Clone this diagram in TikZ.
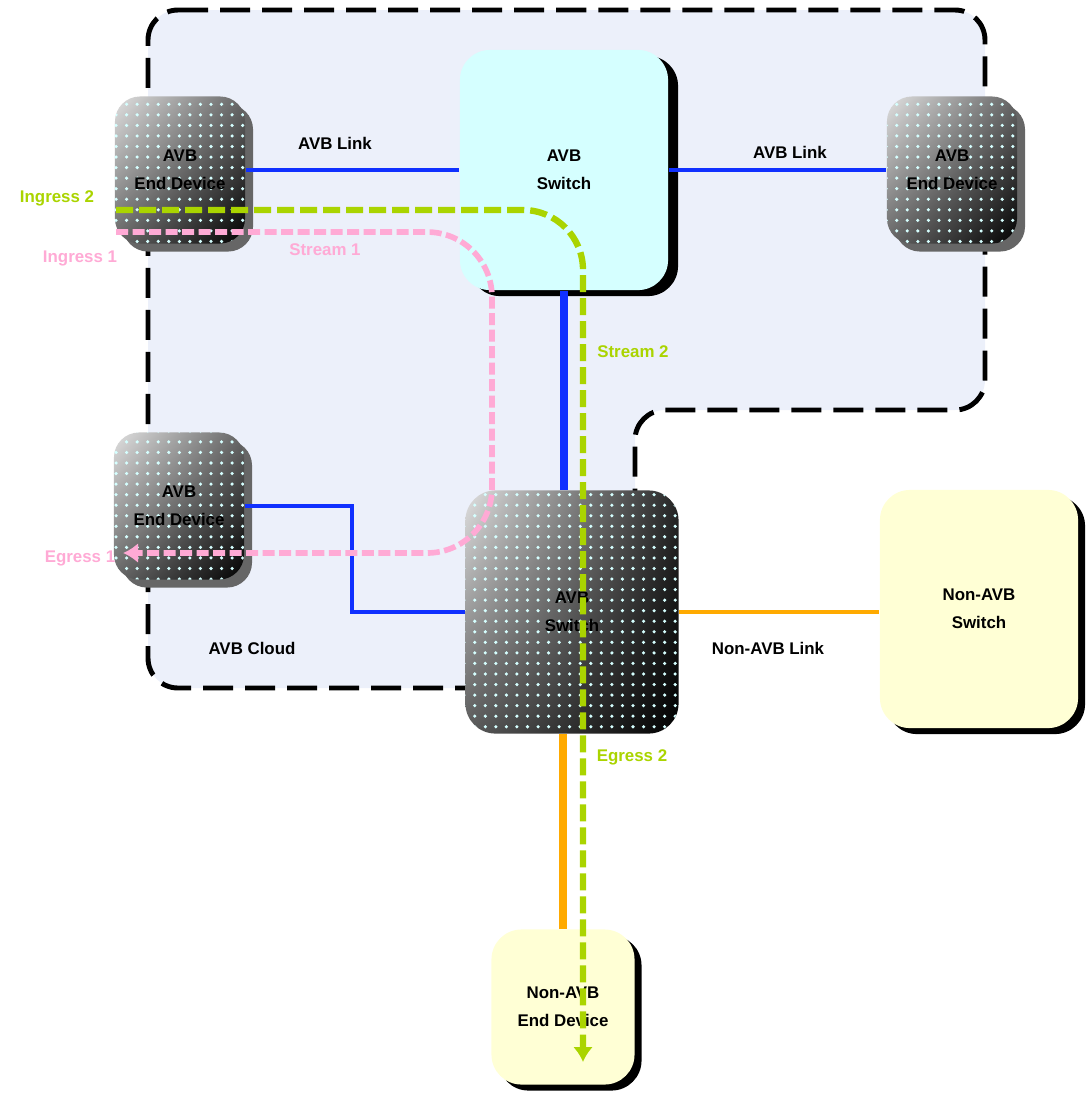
\documentclass[tikz,border=0pt]{standalone}
\usepackage{fontspec}
\setsansfont{Liberation Sans}
\usetikzlibrary{arrows.meta,patterns,shadows,shadings}

\definecolor{cloudbg}{HTML}{ECF0FA}
\definecolor{switchcyan}{HTML}{D5FFFF}
\definecolor{nonavb}{HTML}{FFFFD5}
\definecolor{avbblue}{HTML}{1030FF}
\definecolor{linkorange}{HTML}{FFAA00}
\definecolor{streamgreen}{HTML}{AAD400}
\definecolor{streampink}{HTML}{FFAAD5}
\definecolor{dotcol}{HTML}{D5FFFF}

\tikzset{
  lbl/.style={font=\sffamily\bfseries\fontsize{4.8}{8}\selectfont, align=center, inner sep=0pt},
  avbdev/.style={lbl, rounded corners=0.25cm, minimum width=1.3cm, minimum height=1.47cm,
    upper left=black!12, upper right=black!60, lower left=black!60, lower right=black,
    postaction={pattern=dots, pattern color=dotcol},
    general shadow={shadow xshift=0.08cm, shadow yshift=-0.08cm, fill=black!60}},
  avbsw/.style={lbl, rounded corners=0.3cm, fill=switchcyan,
    general shadow={shadow xshift=0.1cm, shadow yshift=-0.06cm, fill=black}},
  darksw/.style={lbl, rounded corners=0.3cm,
    upper left=black!12, lower left=black!65, upper right=black!85, lower right=black,
    postaction={pattern=dots, pattern color=dotcol}},
  plainbox/.style={lbl, rounded corners=0.3cm, fill=nonavb,
    general shadow={shadow xshift=0.07cm, shadow yshift=-0.06cm, fill=black}},
  avblink/.style={avbblue, line width=1.1pt},
  otherlink/.style={linkorange, line width=0.9pt},
  stream/.style={line width=1.8pt, dash pattern=on 0.17cm off 0.06cm,
    -{Latex[length=0.15cm,width=0.2cm]}}
}

\begin{document}
\begin{tikzpicture}[x=0.01cm, y=-0.01cm]
\useasboundingbox (0,0) rectangle (1086,1096);

% the cloud
\draw[fill=cloudbg, line width=1.4pt, dash pattern=on 0.3cm off 0.12cm, rounded corners=0.3cm]
  (148,10) -- (985,10) -- (985,410) -- (635,410) -- (635,688) -- (148,688) -- cycle;
\node[lbl] (cloudlbl) at (252,648) {AVB Cloud};

% devices and switches
\node[avbdev] (dev1) at (180,170) {AVB\\End Device};
\node[avbdev] (dev2) at (952,170) {AVB\\End Device};
\node[avbdev] (dev3) at (179,506) {AVB\\End Device};

\node[avbsw, minimum width=2.08cm, minimum height=2.4cm] (topsw) at (564,170) {AVB\\Switch};
\node[darksw, minimum width=2.13cm, minimum height=2.43cm] (botsw) at (572,612) {AVB\\Switch};

\node[plainbox, minimum width=1.98cm, minimum height=2.38cm] (nonsw) at (979,609) {Non-AVB\\Switch};
\node[plainbox, minimum width=1.43cm, minimum height=1.55cm] (nonend) at (563,1007) {Non-AVB\\End Device};

% links
\draw[avblink] (dev1.east) -- (topsw.west);
\draw[avblink] (topsw.east) -- (dev2.west);
\draw[avblink, line width=2.3pt] (topsw.south) -- (topsw.south |- botsw.north);
\draw[avblink] (dev3.east) -- ++(107,0) |- (botsw.west);
\draw[otherlink] (botsw.east) -- (botsw.east -| nonsw.west);
\draw[otherlink, line width=2.3pt] (botsw.south -| nonend.north) -- (nonend.north);

\node[lbl] (link1) at (335,143) {AVB Link};
\node[lbl] (link2) at (790,152) {AVB Link};
\node[lbl] (link3) at (768,648) {Non-AVB Link};

% streams
\coordinate (s2in) at (116,210);
\coordinate (s2out) at (583,1062);
\coordinate (s1in) at (116,232);
\coordinate (s1out) at (123,553);

\draw[stream, streamgreen, rounded corners=0.6cm] (s2in) -- (s2in -| s2out) -- (s2out);
\draw[stream, streampink, line width=1.6pt, dash pattern=on 0.12cm off 0.045cm, rounded corners=0.65cm]
  (s1in) -- (492,232) -- (492,553) -- (s1out);

\node[lbl, text=streamgreen] (in2) at (57,198) {Ingress 2};
\node[lbl, text=streamgreen] (st2) at (633,352) {Stream 2};
\node[lbl, text=streamgreen] (out2) at (632,757) {Egress 2};
\node[lbl, text=streampink] (in1) at (80,258) {Ingress 1};
\node[lbl, text=streampink] (st1) at (325,250) {Stream 1};
\node[lbl, text=streampink] (out1) at (80,558) {Egress 1};
\end{tikzpicture}
\end{document}
